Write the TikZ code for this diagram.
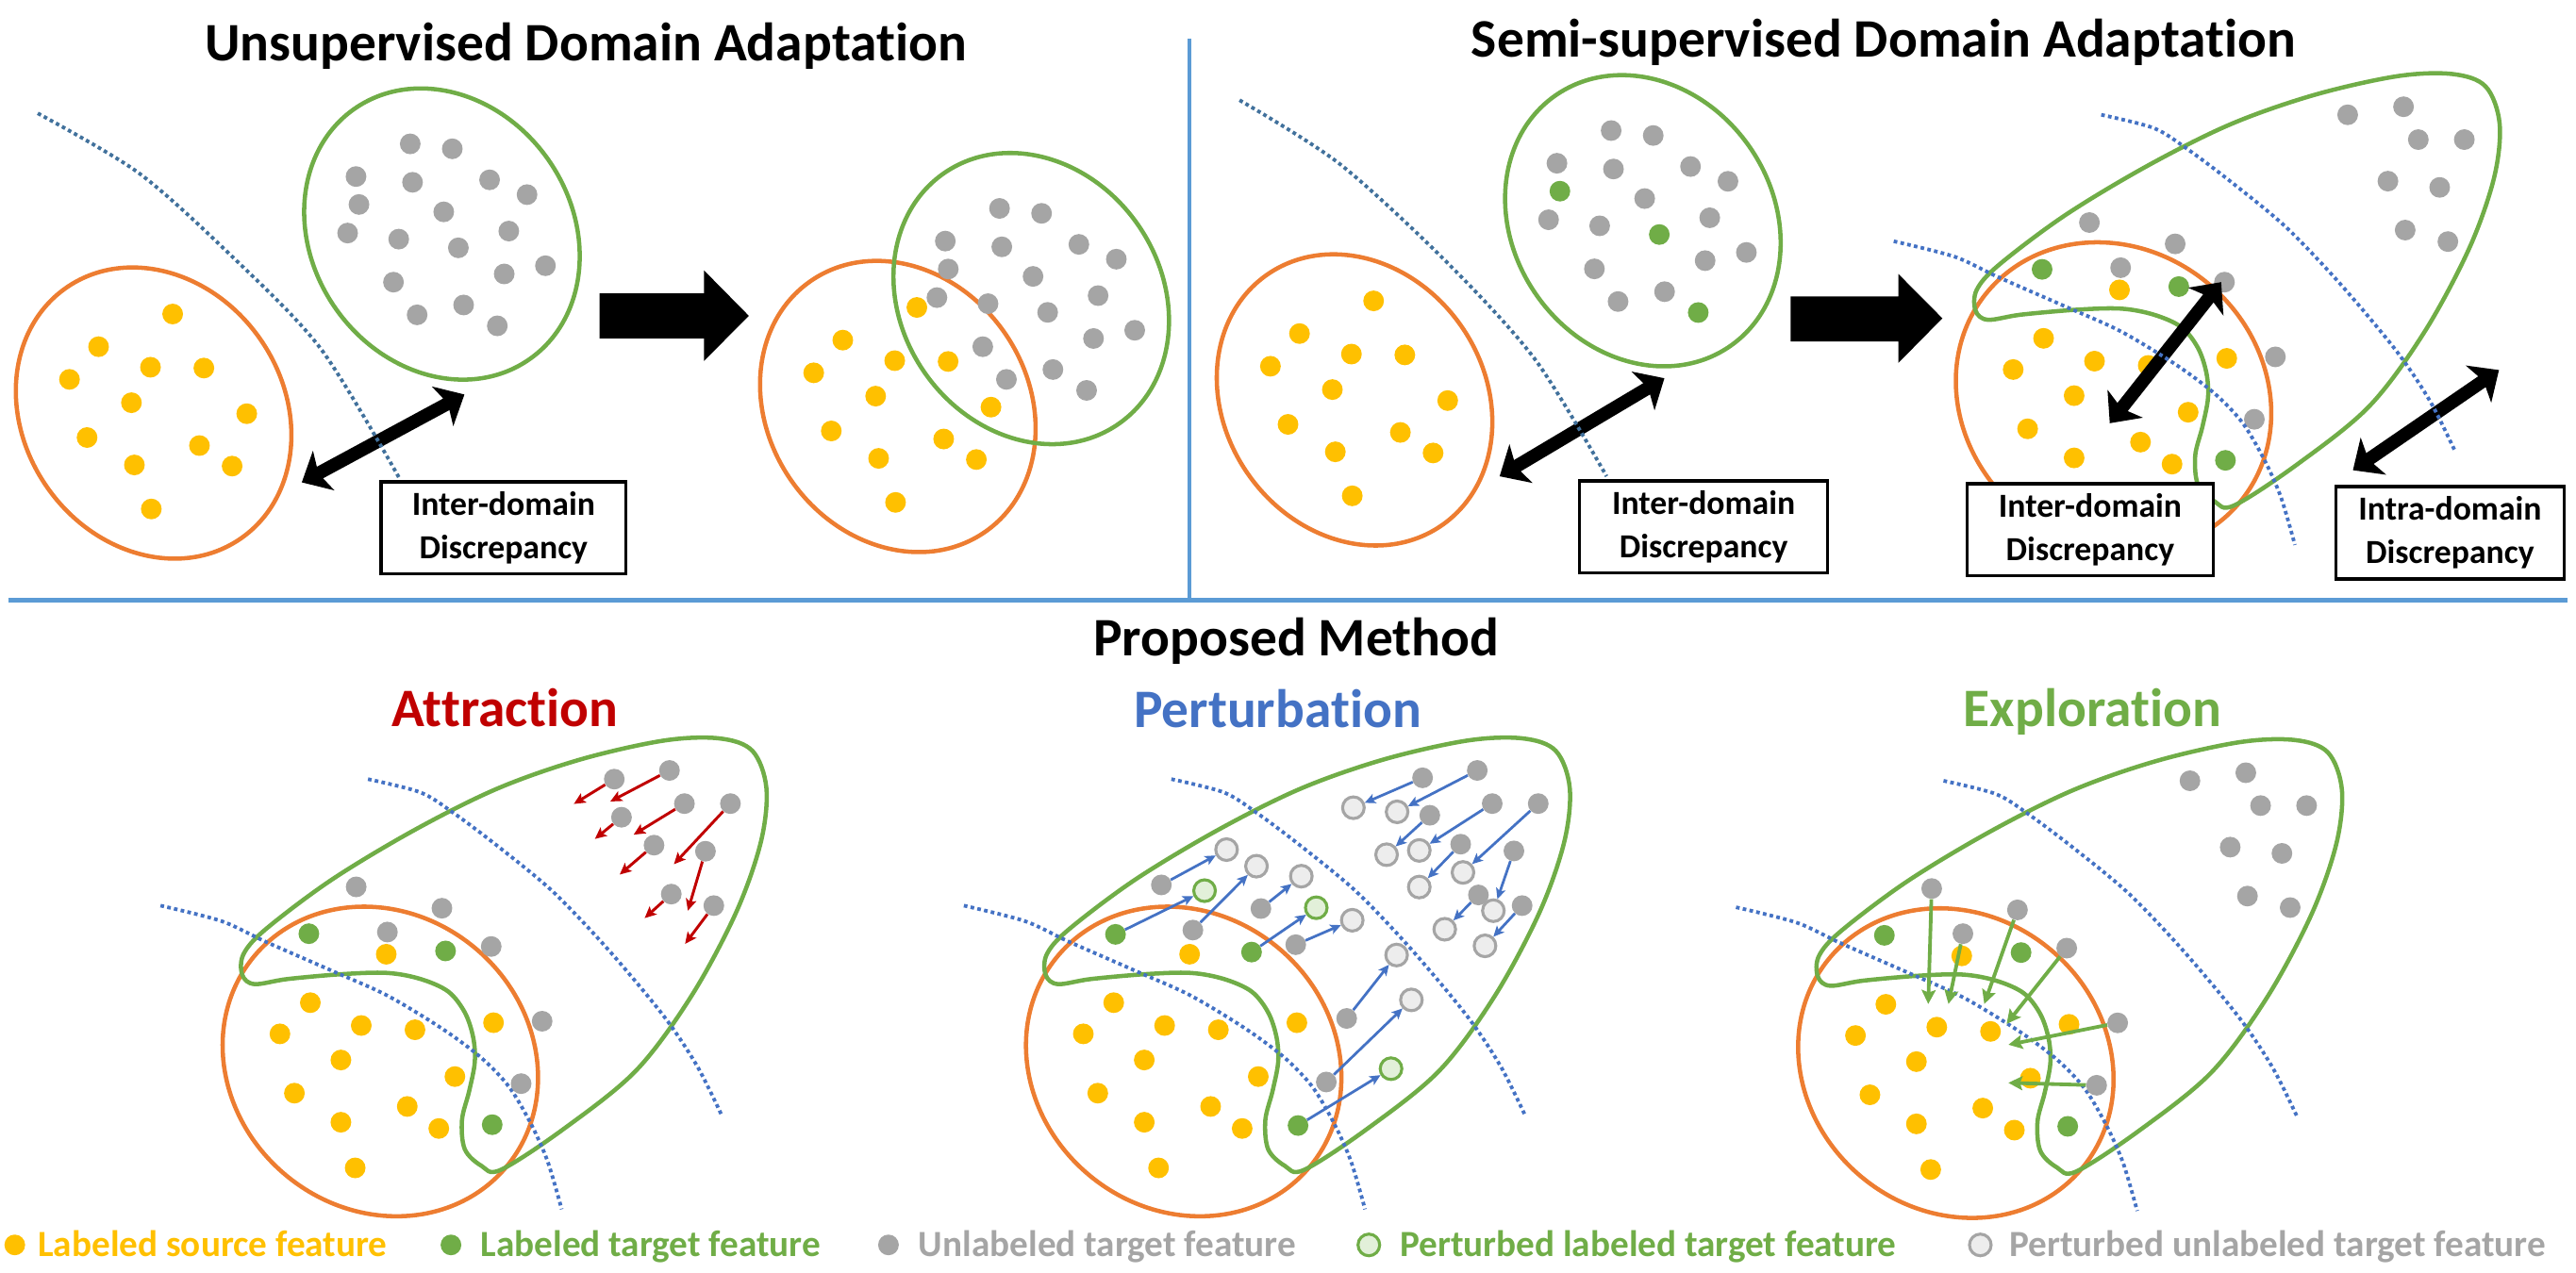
\documentclass[tikz,border=0pt]{standalone}
\usepackage{fontspec}
\setmainfont{Carlito}[Ligatures=NoCommon]
\usepackage{tikz}
\usetikzlibrary{arrows.meta}
\definecolor{Src}{HTML}{FFC000}
\definecolor{Lab}{HTML}{70AD47}
\definecolor{Unl}{HTML}{A5A5A5}
\definecolor{Rim}{HTML}{ED7D31}
\definecolor{Rule}{HTML}{5B9BD5}
\definecolor{Edge}{HTML}{4472C4}
\definecolor{EdgeDark}{HTML}{41719C}
\definecolor{Pull}{HTML}{C00000}
\definecolor{PertU}{HTML}{EDEDED}
\definecolor{PertL}{HTML}{E2F0D9}

% clusters of the top row, relative to their centre
\newcommand\srcpts{(11.6,-60.3),(-33.5,-40.4),(-1.9,-27.9),(30.6,-27.4),(-51.2,-20.5),(-13.5,-6.3),(56.7,0.4),(-40.5,14.9),(27.9,19.8),(-11.7,31.6),(47.8,32.3),(-1.4,58.4)}
\newcommand\tgtpts{(-19.3,-54.9),(6.3,-51.9),(-52.3,-35),(-17.9,-31.5),(29,-33),(51.8,-24),(1.1,-13.5),(-57.4,-0.6),(-26.3,3.1),(40.7,-1.8),(63,19.3),(-29.5,29.3),(37.9,24.3),(-15.1,49.2),(13.2,43.2)}
\newcommand\tgtlab{(-50.5,-18),(10,8.4),(33.7,55.9)}

% adapted feature space, in Attraction coordinates
\newcommand\fieldsrc{(188.9,610.5),(170.4,629.5),(219.9,624.4),(252.6,627),(300.4,622.7),(207.5,645.4),(276.9,655.5),(179.2,665.6),(247.9,673.7),(207.5,683.3),(267.1,687.1),(216.2,711.1),(235.1,581)}
\newcommand\fieldnear{(216.8,540),(269,553),(235.8,567.5),(299,576.3),(330,621.8),(317.2,659.8)}
\newcommand\fieldlab{(188,568.5),(271.2,579),(299.6,684.8)}
\newcommand\fieldfar{(374,474.4),(408,469.5),(417,489.5),(445,489.5),(398.5,514.8),(430,518.6),(409,544.6),(435,551.6)}

\newcommand\fieldbody{%
  \draw[rim,rotate around={-40:(231.5,646.3)}] (231.5,646.3) ellipse [x radius=100,y radius=90];
  \draw[hull] plot[smooth cycle,tension=0.55] coordinates {(437.9,449.6) (458,457.2) (466.5,479.9) (463.1,512.8) (448,555.7) (421,606.2) (387.3,651.7) (343.5,687.1) (304.8,712.3) (293,709.8) (282.9,699.7) (281.2,682) (285.6,664.3) (289,646.7) (288,631.5) (282.9,616.4) (272.8,603.7) (256,596.1) (235.8,592.4) (208.8,593.1) (175.1,596.1) (154.9,599.2) (147.5,593.6) (148.2,581) (161.7,565.8) (202.1,535.5) (252.6,505.2) (303.1,480) (353.7,462.3) (404.2,450.9)};
  \foreach \p in \fieldsrc \fill[Src] \p circle (6.3);
}
\newcommand\fieldsplit[1]{%
  \draw[boundary,#1] plot[smooth] coordinates {(97.7,551.4) (134.7,560.8) (161.7,573.4) (202.1,591.1) (235.8,606.2) (269.4,626.5) (293,644.1) (309.9,661.8) (323.3,684.5) (333.4,707.3) (341.9,736.3)};
  \draw[boundary,#1] plot[smooth] coordinates {(224,474.4) (256,482.5) (276.2,495.1) (303.1,515.3) (336.8,543.1) (370.5,578.5) (404.2,618.9) (424.4,649.2) (439.5,679.5)};
}

\begin{document}
\begin{tikzpicture}[x=1pt,y=-1pt,
    unlnode/.style={circle,fill=Unl,inner sep=0pt,minimum size=12.6pt},
    labnode/.style={circle,fill=Lab,inner sep=0pt,minimum size=12.6pt},
    srcnode/.style={circle,fill=Src,inner sep=0pt,minimum size=12.6pt},
    pertu/.style={circle,draw=Unl,fill=PertU,line width=1.8pt,inner sep=0pt,minimum size=13.2pt},
    pertl/.style={circle,draw=Lab,fill=PertL,line width=1.8pt,inner sep=0pt,minimum size=13.2pt},
    rim/.style={Rim,line width=2.6pt},
    hull/.style={Lab,line width=2.6pt},
    boundary/.style={line width=2.2pt,dash pattern=on 2.2pt off 2pt},
    pullarrow/.style={Pull,line width=1.7pt,-{Stealth[length=7pt,width=6.5pt,inset=1.5pt]}},
    pusharrow/.style={Edge,line width=1.6pt,-{Stealth[length=6.5pt,width=6pt,inset=1.5pt]}},
    reacharrow/.style={Lab,line width=2.2pt,-{Stealth[length=8.5pt,width=8.5pt,inset=1.5pt]}},
    gaparrow/.style={line width=8pt,{Stealth[length=15pt,width=27pt,inset=3.5pt]}-{Stealth[length=15pt,width=27pt,inset=3.5pt]}},
    gapbox/.style={draw,line width=2pt,fill=white,align=center,inner sep=1pt,minimum height=56pt,font=\fontsize{20.5}{26.5}\selectfont\bfseries},
    headline/.style={anchor=base,font=\fontsize{33}{40}\selectfont\bfseries},
    keytext/.style={anchor=base west,inner sep=0pt,font=\fontsize{22.5}{27}\selectfont\bfseries}]
  \useasboundingbox (0,0) rectangle (1568,775);

  % panel rules
  \draw[Rule,line width=2.5pt] (724,23.6) -- (724,365.4);
  \draw[Rule,line width=2.5pt] (5,365.4) -- (1563,365.4);

  \node[headline] (uda) at (356.5,37.3) {Unsupervised Domain Adaptation};
  \node[headline] (ssda) at (1146.5,35) {Semi-supervised Domain Adaptation};

  % unsupervised, before
  \draw[rim,rotate around={35:(93.5,251.5)}] (93.5,251.5) ellipse [x radius=79,y radius=93];
  \draw[hull,rotate around={35:(269,142.5)}] (269,142.5) ellipse [x radius=79,y radius=93];
  \begin{scope}[shift={(93.5,251.5)}]
    \foreach \p in \srcpts \fill[Src] \p circle (6.3);
  \end{scope}
  \begin{scope}[shift={(269,142.5)}]
    \foreach \p in \tgtpts \fill[Unl] \p circle (6.3);
    \foreach \p in \tgtlab \fill[Unl] \p circle (6.3);
  \end{scope}
  \coordinate (u1a) at (183.7,293.7);
  \coordinate (u1b) at (282.7,240.2);
  \draw[gaparrow] (u1a) -- (u1b);
  \draw[boundary,EdgeDark] plot[smooth] coordinates {(23,69) (84,105) (139,154) (195,212) (243,291)};
  \node[gapbox,minimum width=149pt] (inter1) at (306.5,321.3) {Inter-domain\\Discrepancy};

  \fill (365,178.6) -- (428.5,178.6) -- (428.5,164.6) -- (455.8,192.3) -- (428.5,219.8) -- (428.5,206.1) -- (365,206.1) -- cycle;

  % unsupervised, after
  \draw[rim,rotate around={35:(546.5,247.5)}] (546.5,247.5) ellipse [x radius=79,y radius=93];
  \draw[hull,rotate around={35:(627.7,181.8)}] (627.7,181.8) ellipse [x radius=79,y radius=93];
  \begin{scope}[shift={(546.5,247.5)}]
    \foreach \p in \srcpts \fill[Src] \p circle (6.3);
  \end{scope}
  \begin{scope}[shift={(627.7,181.8)}]
    \foreach \p in \tgtpts \fill[Unl] \p circle (6.3);
    \foreach \p in \tgtlab \fill[Unl] \p circle (6.3);
  \end{scope}

  % semi-supervised, before
  \draw[rim,rotate around={35:(824.5,243.5)}] (824.5,243.5) ellipse [x radius=79,y radius=93];
  \draw[hull,rotate around={35:(1000,134.4)}] (1000,134.4) ellipse [x radius=79,y radius=93];
  \begin{scope}[shift={(824.5,243.5)}]
    \foreach \p in \srcpts \fill[Src] \p circle (6.3);
  \end{scope}
  \begin{scope}[shift={(1000,134.4)}]
    \foreach \p in \tgtpts \fill[Unl] \p circle (6.3);
    \foreach \p in \tgtlab \fill[Lab] \p circle (6.3);
  \end{scope}
  \coordinate (s1a) at (912.8,290);
  \coordinate (s1b) at (1013.1,230.3);
  \draw[gaparrow] (s1a) -- (s1b);
  \draw[boundary,EdgeDark] plot[smooth] coordinates {(754.5,61) (815.2,99.6) (880.3,159.3) (934.5,219) (977.9,290)};
  \node[gapbox,minimum width=151pt] (inter2) at (1037,320.8) {Inter-domain\\Discrepancy};

  \fill (1090,180.5) -- (1155.5,180.5) -- (1155.5,166.8) -- (1182.3,193.8) -- (1155.5,221) -- (1155.5,207.9) -- (1090,207.9) -- cycle;

  % semi-supervised, after
  \begin{scope}[shift={(1055,-404.5)}]
    \fieldbody
    \foreach \p in \fieldnear \fill[Unl] \p circle (6.3);
    \foreach \p in \fieldfar \fill[Unl] \p circle (6.3);
    \foreach \p in \fieldlab \fill[Lab] \p circle (6.3);
  \end{scope}
  \coordinate (s2a) at (1284.2,257.7);
  \coordinate (s2b) at (1352,171.8);
  \draw[gaparrow] (s2a) -- (s2b);
  \coordinate (s3a) at (1432.2,286.3);
  \coordinate (s3b) at (1521.1,225.3);
  \draw[gaparrow] (s3a) -- (s3b);
  \begin{scope}[shift={(1055,-404.5)}]
    \fieldsplit{Edge}
  \end{scope}
  \node[gapbox,minimum width=150pt] (inter3) at (1272.3,322.6) {Inter-domain\\Discrepancy};
  \node[gapbox,minimum width=139pt] (intra) at (1491.3,324.4) {Intra-domain\\Discrepancy};

  % proposed method
  \node[headline] (method) at (789,399.5) {Proposed Method};
  \node[headline,text=Pull] (attr) at (307.5,442.6) {Attraction};
  \node[headline,text=Edge] (pert) at (777.7,443) {Perturbation};
  \node[headline,text=Lab] (expl) at (1273.6,442.6) {Exploration};

  % attraction
  \fieldbody
  \fieldsplit{Edge}
  \foreach \p in \fieldnear \fill[Unl] \p circle (6.3);
  \foreach \p in \fieldlab \fill[Lab] \p circle (6.3);
  \foreach \n/\sx/\sy/\ex/\ey in {1/373.9/474.4/349.3/489.5, 2/407.5/469.1/371.5/488, 3/378.3/497.6/362.1/510.8,
      4/416.6/489.3/385.7/508.2, 5/444.6/489.3/410.2/526.2, 6/398.1/514.6/377.2/532.5,
      7/429.4/518.3/418.7/554.5, 8/408.6/544.4/392.4/559, 9/434.5/551.4/417/574.7}{
    \node[unlnode] (at\n) at (\sx,\sy) {};
    \coordinate (ae\n) at (\ex,\ey);
    \draw[pullarrow] (at\n) -- (ae\n);
  }

  % perturbation
  \begin{scope}[shift={(489,0)}]
    \fieldbody
    \fieldsplit{Edge}
    \foreach \n/\sx/\sy/\ex/\ey in {1/376.9/473.6/334.8/491.8, 2/410.2/469.1/361.4/494.3, 3/381.3/496.4/355/520.4,
        4/419.3/489.3/374.9/517.8, 5/447.3/489.3/401.5/531.2, 6/400.1/514/374.9/540.1,
        7/432.5/518.1/420/554.5, 8/410.9/544.9/390.4/565.8, 9/437.5/551.4/414.9/575.9,
        10/217.9/538.8/257.6/517.3, 11/237.1/566.3/275.8/527.4, 12/278.5/553.2/303.1/533.5,
        13/299.7/575.2/334.1/560.3, 14/330.7/620.1/361.1/581.5, 15/318.3/658.8/370.1/608.8}{
      \node[unlnode] (pu\n) at (\sx,\sy) {};
      \node[pertu] (pp\n) at (\ex,\ey) {};
      \draw[pusharrow] (pu\n) -- (pp\n);
    }
    \foreach \n/\sx/\sy/\ex/\ey in {1/190/568.9/244.2/542.3, 2/272.8/579.7/312.2/552.7, 3/301.1/685.3/357.7/650.7}{
      \node[labnode] (lt\n) at (\sx,\sy) {};
      \node[pertl] (lp\n) at (\ex,\ey) {};
      \draw[pusharrow] (lt\n) -- (lp\n);
    }
  \end{scope}

  % exploration
  \begin{scope}[shift={(959,1)}]
    \fieldbody
    \fieldsplit{Edge}
    \foreach \p in \fieldfar \fill[Unl] \p circle (6.3);
    \foreach \p in \fieldlab \fill[Lab] \p circle (6.3);
    \foreach \n/\sx/\sy/\ex/\ey in {1/216.8/540/214.7/610.3, 2/269/553/248.8/610.3, 3/235.8/567.5/227/610.3,
        4/299/576.3/262.4/622.4, 5/330/621.8/263.5/635.1, 6/317.2/659.8/263.5/658.3}{
      \node[unlnode] (xu\n) at (\sx,\sy) {};
      \coordinate (xe\n) at (\ex,\ey);
      \draw[reacharrow] (xu\n) -- (xe\n);
    }
  \end{scope}

  % legend
  \node[srcnode] (key1) at (9,758) {};
  \node[keytext,text=Src] (txt1) at (23,765) {Labeled source feature};
  \node[labnode] (key2) at (274.5,758) {};
  \node[keytext,text=Lab] (txt2) at (292.5,765) {Labeled target feature};
  \node[unlnode] (key3) at (540.8,758) {};
  \node[keytext,text=Unl] (txt3) at (559,765) {Unlabeled target feature};
  \node[pertl] (key4) at (833.2,758) {};
  \node[keytext,text=Lab] (txt4) at (852,765) {Perturbed labeled target feature};
  \node[pertu] (key5) at (1205.4,758) {};
  \node[keytext,text=Unl] (txt5) at (1223,765) {Perturbed unlabeled target feature};
\end{tikzpicture}
\end{document}
